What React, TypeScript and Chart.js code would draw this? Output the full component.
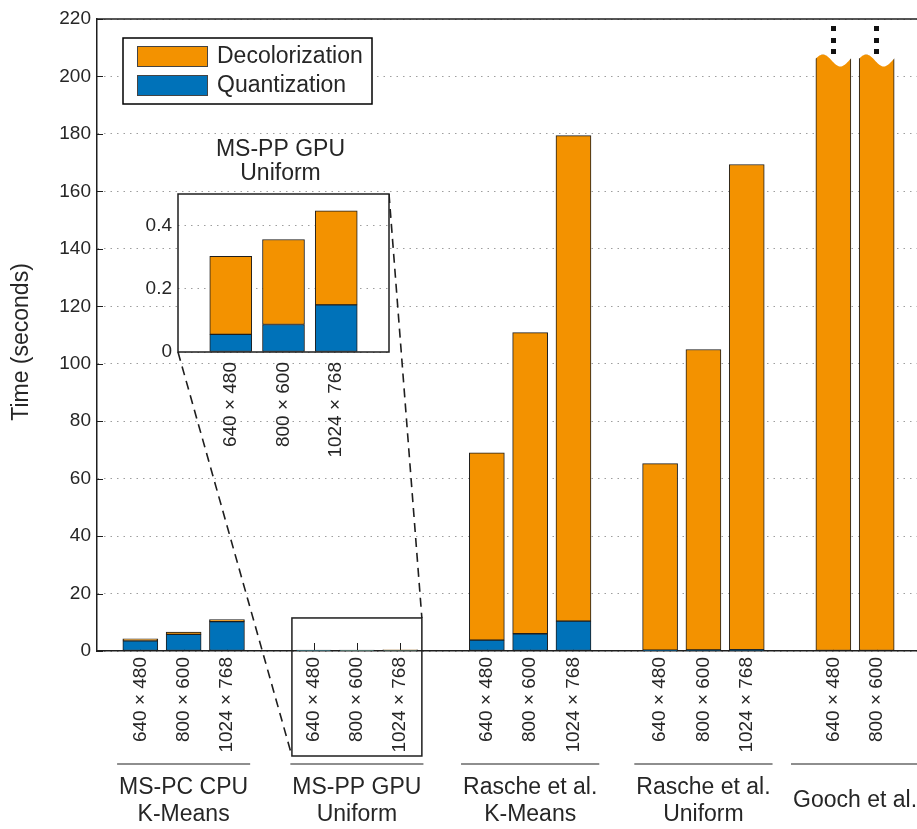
import React, { useEffect, useRef } from 'react';
import { Chart, registerables } from 'chart.js';

Chart.register(...registerables);

// ---------- data ----------
const groupNames: string[][] = [
  ['MS-PC CPU', 'K-Means'],
  ['MS-PP GPU', 'Uniform'],
  ['Rasche et al.', 'K-Means'],
  ['Rasche et al.', 'Uniform'],
  ['Gooch et al.'],
];
const resolutions = ['640 × 480', '800 × 600', '1024 × 768'];
const quantization: number[][] = [
  [3.5, 5.8, 10.2],
  [0.056, 0.087, 0.149],
  [3.8, 6.0, 10.4],
  [0.3, 0.35, 0.45],
  [0, 0],
];
const decolorization: number[][] = [
  [0.7, 0.8, 0.7],
  [0.247, 0.269, 0.298],
  [65.2, 104.8, 169.0],
  [64.9, 104.6, 168.9],
  [208, 208],
];
const yTicks = [0, 20, 40, 60, 80, 100, 120, 140, 160, 180, 200, 220];
const insetTitle = ['MS-PP GPU', 'Uniform'];
const insetQuantization = [0.056, 0.087, 0.149];
const insetDecolorization = [0.247, 0.269, 0.298];
const insetYTicks = [0, 0.2, 0.4];
const legendItems = ['Decolorization', 'Quantization'];
const yTitle = 'Time (seconds)';
const brokenGroup = 4;

// ---------- style ----------
const FONT = "'Liberation Sans', Arial, Helvetica, sans-serif";
const ORANGE = '#F39200';
const BLUE = '#0072B9';
const EDGE = '#1e1e1e';
const TXT = '#262626';
const GRID = 'rgba(0,0,0,0.38)';

// inset placement (page coords)
const INSET_LEFT = 100;
const INSET_TOP = 130;
const INSET_W = 320;
const INSET_H = 340;
const INSET_AREA_LEFT = 78;
const INSET_AREA_TOP = 64;
const INSET_AREA_RIGHT = 31;
const INSET_AREA_BOTTOM = 118;

function buildSlots() {
  const labels: string[] = [''];
  const q: (number | null)[] = [null];
  const d: (number | null)[] = [null];
  const groupIdx: number[][] = [];
  groupNames.forEach((_, gi) => {
    const idx: number[] = [];
    decolorization[gi].forEach((v, i) => {
      idx.push(labels.length);
      labels.push(resolutions[i]);
      const qv = quantization[gi][i];
      q.push(qv > 0 ? qv : null);
      d.push(v);
    });
    groupIdx.push(idx);
    labels.push('');
    q.push(null);
    d.push(null);
  });
  return { labels, q, d, groupIdx };
}

export default function App() {
  const mainRef = useRef<HTMLCanvasElement | null>(null);
  const insetRef = useRef<HTMLCanvasElement | null>(null);

  useEffect(() => {
    const { labels, q, d, groupIdx } = buildSlots();
    const font19 = { family: FONT, size: 19 };
    const BIG = `23px ${FONT}`;

    const mainPlugin = {
      id: 'mainDecor',
      beforeDatasetsDraw(chart: any) {
        const { ctx, chartArea: a, scales } = chart;
        const x = scales.x;
        const y = scales.y;
        ctx.save();
        ctx.strokeStyle = EDGE;
        ctx.lineWidth = 1;
        yTicks.forEach((v) => {
          const yy = Math.round(y.getPixelForValue(v)) + 0.5;
          ctx.beginPath();
          ctx.moveTo(a.left, yy);
          ctx.lineTo(a.left + 6, yy);
          ctx.stroke();
        });
        labels.forEach((l, i) => {
          if (!l) return;
          const xx = Math.round(x.getPixelForValue(i)) + 0.5;
          ctx.beginPath();
          ctx.moveTo(xx, a.bottom);
          ctx.lineTo(xx, a.bottom - 8);
          ctx.stroke();
        });
        ctx.restore();
      },
      afterDatasetsDraw(chart: any) {
        const { ctx, chartArea: a } = chart;
        const meta = chart.getDatasetMeta(1);
        ctx.save();
        groupIdx[brokenGroup].forEach((i) => {
          const el = meta.data[i];
          if (!el) return;
          const p = el.getProps(['x', 'y', 'width'], true);
          const left = p.x - p.width / 2;
          const w = p.width;
          const curve = (t: number) => p.y + 7 - 6 * Math.sin(2 * Math.PI * (t + 0.05));
          ctx.fillStyle = '#ffffff';
          ctx.beginPath();
          ctx.moveTo(left - 2, p.y - 4);
          ctx.lineTo(left - 2, curve(0));
          for (let k = 0; k <= 40; k++) {
            const t = k / 40;
            ctx.lineTo(left + t * w, curve(t));
          }
          ctx.lineTo(left + w + 2, curve(1));
          ctx.lineTo(left + w + 2, p.y - 4);
          ctx.closePath();
          ctx.fill();
          ctx.fillStyle = '#111';
          [-25, -13, -2].forEach((off) => {
            ctx.fillRect(Math.round(p.x - 2.5), Math.round(p.y + off - 2.5), 5, 5);
          });
        });
        // top border
        ctx.strokeStyle = EDGE;
        ctx.lineWidth = 1.5;
        ctx.beginPath();
        ctx.moveTo(a.left, a.top);
        ctx.lineTo(a.right, a.top);
        ctx.stroke();
        ctx.restore();
      },
      afterDraw(chart: any) {
        const { ctx, chartArea: a, scales } = chart;
        const x = scales.x;
        const y = scales.y;
        const step = x.getPixelForValue(1) - x.getPixelForValue(0);
        ctx.save();
        // zoom box around group 2
        const g2 = groupIdx[1];
        const bl = x.getPixelForValue(g2[0]) - step / 2;
        const br = x.getPixelForValue(g2[g2.length - 1]) + step / 2;
        const bt = y.getPixelForValue(11.5);
        const bb = a.bottom + 105;
        ctx.strokeStyle = EDGE;
        ctx.lineWidth = 1.5;
        ctx.strokeRect(bl, bt, br - bl, bb - bt);
        // dashed connectors
        const iL = INSET_LEFT + INSET_AREA_LEFT;
        const iT = INSET_TOP + INSET_AREA_TOP;
        const iR = INSET_LEFT + INSET_W - INSET_AREA_RIGHT;
        const iB = INSET_TOP + INSET_H - INSET_AREA_BOTTOM;
        ctx.setLineDash([9, 6]);
        ctx.lineWidth = 1.6;
        ctx.beginPath();
        ctx.moveTo(iL, iB);
        ctx.lineTo(bl, bb);
        ctx.moveTo(iR, iT);
        ctx.lineTo(br, bt);
        ctx.stroke();
        ctx.setLineDash([]);

        // legend
        const lx = a.left + 26;
        const ly = a.top + 19;
        const lw = 249;
        const lh = 66;
        ctx.fillStyle = '#fff';
        ctx.fillRect(lx, ly, lw, lh);
        ctx.strokeStyle = '#000';
        ctx.lineWidth = 1.5;
        ctx.strokeRect(lx, ly, lw, lh);
        const cols = [ORANGE, BLUE];
        ctx.font = BIG;
        ctx.textBaseline = 'middle';
        ctx.textAlign = 'left';
        legendItems.forEach((t, i) => {
          const py = ly + 8 + i * 29;
          ctx.fillStyle = cols[i];
          ctx.fillRect(lx + 14, py, 71, 21);
          ctx.strokeStyle = '#444';
          ctx.lineWidth = 1;
          ctx.strokeRect(lx + 14.5, py + 0.5, 70, 20);
          ctx.fillStyle = TXT;
          ctx.fillText(t, lx + 94, py + 11);
        });

        // group labels
        ctx.font = BIG;
        ctx.textAlign = 'center';
        ctx.textBaseline = 'middle';
        groupIdx.forEach((idx, gi) => {
          const cx = idx.reduce((s, i) => s + x.getPixelForValue(i), 0) / idx.length;
          const lines = groupNames[gi];
          const maxW = Math.max(...lines.map((l) => ctx.measureText(l).width));
          ctx.strokeStyle = EDGE;
          ctx.lineWidth = 1.2;
          ctx.beginPath();
          ctx.moveTo(cx - maxW / 2 - 2, a.bottom + 113);
          ctx.lineTo(cx + maxW / 2 + 2, a.bottom + 113);
          ctx.stroke();
          ctx.fillStyle = TXT;
          if (lines.length === 1) {
            ctx.fillText(lines[0], cx, a.bottom + 150);
          } else {
            ctx.fillText(lines[0], cx, a.bottom + 137);
            ctx.fillText(lines[1], cx, a.bottom + 164);
          }
        });

        // y title
        ctx.translate(22, 342);
        ctx.rotate(-Math.PI / 2);
        ctx.fillStyle = TXT;
        ctx.fillText(yTitle, 0, 0);
        ctx.restore();
      },
    };

    const main = new Chart(mainRef.current as HTMLCanvasElement, {
      type: 'bar',
      data: {
        labels,
        datasets: [
          {
            label: legendItems[1],
            data: q,
            backgroundColor: BLUE,
            borderColor: EDGE,
            borderWidth: 1,
            borderSkipped: false,
            barThickness: 35,
          },
          {
            label: legendItems[0],
            data: d,
            backgroundColor: ORANGE,
            borderColor: EDGE,
            borderWidth: 1,
            borderSkipped: false,
            barThickness: 35,
          },
        ],
      },
      options: {
        animation: false,
        responsive: false,
        maintainAspectRatio: false,
        devicePixelRatio: 1,
        layout: { padding: { top: 19, right: 0, bottom: 0, left: 0 } },
        plugins: { legend: { display: false }, tooltip: { enabled: false }, title: { display: false } },
        scales: {
          x: {
            type: 'category',
            stacked: true,
            offset: false,
            grid: { display: false, drawTicks: false },
            border: { display: true, color: EDGE, width: 1.5 },
            ticks: {
              autoSkip: false,
              minRotation: 90,
              maxRotation: 90,
              padding: 6,
              color: TXT,
              font: font19,
            },
            afterFit: (s: any) => {
              s.height = 178;
              s.paddingLeft = 0;
              s.paddingRight = 0;
            },
          },
          y: {
            type: 'linear',
            stacked: true,
            min: 0,
            max: 220,
            grid: { color: GRID, lineWidth: 1, drawTicks: false },
            border: { display: true, color: EDGE, width: 1.5, dash: [1.5, 5] },
            ticks: {
              stepSize: 20,
              padding: 6,
              color: TXT,
              font: font19,
            },
            afterFit: (s: any) => {
              s.width = 97;
              s.paddingTop = 0;
              s.paddingBottom = 0;
            },
          },
        },
      },
      plugins: [mainPlugin],
    } as any);

    const insetPlugin = {
      id: 'insetDecor',
      beforeDraw(chart: any) {
        const { ctx, chartArea: a } = chart;
        ctx.save();
        ctx.fillStyle = '#fff';
        ctx.fillRect(a.left, a.top, a.right - a.left, a.bottom - a.top);
        ctx.restore();
      },
      afterDraw(chart: any) {
        const { ctx, chartArea: a } = chart;
        ctx.save();
        ctx.strokeStyle = EDGE;
        ctx.lineWidth = 1.5;
        ctx.strokeRect(a.left, a.top, a.right - a.left, a.bottom - a.top);
        ctx.fillStyle = TXT;
        ctx.font = BIG;
        ctx.textAlign = 'center';
        ctx.textBaseline = 'middle';
        const cx = (a.left + a.right) / 2 - 3;
        ctx.fillText(insetTitle[0], cx, a.top - 44);
        ctx.fillText(insetTitle[1], cx, a.top - 20);
        ctx.restore();
      },
    };

    const inset = new Chart(insetRef.current as HTMLCanvasElement, {
      type: 'bar',
      data: {
        labels: ['', ...resolutions, ''],
        datasets: [
          {
            label: legendItems[1],
            data: [null, ...insetQuantization, null],
            backgroundColor: BLUE,
            borderColor: EDGE,
            borderWidth: 1,
            borderSkipped: false,
            barThickness: 42,
          },
          {
            label: legendItems[0],
            data: [null, ...insetDecolorization, null],
            backgroundColor: ORANGE,
            borderColor: EDGE,
            borderWidth: 1,
            borderSkipped: false,
            barThickness: 42,
          },
        ],
      },
      options: {
        animation: false,
        responsive: false,
        maintainAspectRatio: false,
        devicePixelRatio: 1,
        layout: { padding: { top: INSET_AREA_TOP, right: INSET_AREA_RIGHT, bottom: 0, left: 0 } },
        plugins: { legend: { display: false }, tooltip: { enabled: false }, title: { display: false } },
        scales: {
          x: {
            type: 'category',
            stacked: true,
            offset: false,
            grid: { display: false, drawTicks: false },
            border: { display: false },
            ticks: {
              autoSkip: false,
              minRotation: 90,
              maxRotation: 90,
              padding: 10,
              color: TXT,
              font: font19,
            },
            afterFit: (s: any) => {
              s.height = INSET_AREA_BOTTOM;
              s.paddingLeft = 0;
              s.paddingRight = 0;
            },
          },
          y: {
            type: 'linear',
            stacked: true,
            min: 0,
            max: 0.5,
            grid: { color: GRID, lineWidth: 1, drawTicks: false },
            border: { display: false, dash: [1.5, 5] },
            afterBuildTicks: (s: any) => {
              s.ticks = insetYTicks.map((v) => ({ value: v }));
            },
            ticks: {
              padding: 6,
              color: TXT,
              font: font19,
              callback: (v: any) => (Number(v) === 0 ? '0' : Number(v).toFixed(1)),
            },
            afterFit: (s: any) => {
              s.width = INSET_AREA_LEFT;
              s.paddingTop = 0;
              s.paddingBottom = 0;
            },
          },
        },
      },
      plugins: [insetPlugin],
    } as any);

    return () => {
      main.destroy();
      inset.destroy();
    };
  }, []);

  return (
    <div
      style={{
        position: 'absolute',
        left: 0,
        top: 0,
        width: 917,
        height: 829,
        overflow: 'hidden',
        background: '#fff',
      }}
    >
      <canvas
        ref={mainRef}
        width={920}
        height={829}
        style={{ position: 'absolute', left: 0, top: 0, width: 920, height: 829 }}
      />
      <canvas
        ref={insetRef}
        width={INSET_W}
        height={INSET_H}
        style={{ position: 'absolute', left: INSET_LEFT, top: INSET_TOP, width: INSET_W, height: INSET_H }}
      />
    </div>
  );
}
